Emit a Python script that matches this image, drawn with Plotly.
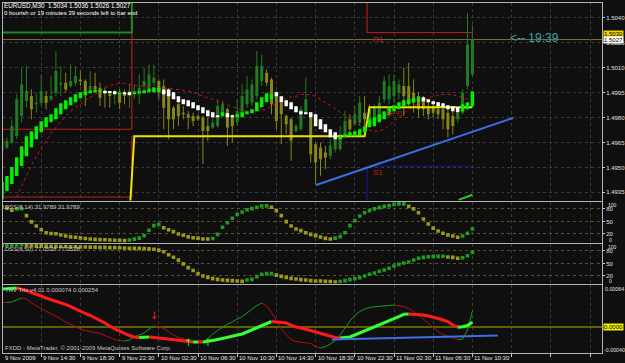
import plotly.graph_objects as go

# ---------------- DATA ----------------
n_bars = 97
bars = list(range(n_bars))

time_labels = ["9 Nov 2009", "9 Nov 14:30", "9 Nov 18:30", "9 Nov 22:30", "10 Nov 02:30",
               "10 Nov 06:30", "10 Nov 10:30", "10 Nov 14:30", "10 Nov 18:30", "10 Nov 22:30",
               "11 Nov 02:30", "11 Nov 06:30", "11 Nov 10:30"]
label_bars = [0, 8, 16, 24, 32, 40, 48, 56, 64, 72, 80, 88, 96]
grid_bars = label_bars + [104, 112, 120]

price_ticks = [1.5040, 1.5025, 1.5010, 1.4995, 1.4980, 1.4965, 1.4950, 1.4935]

c_open = [1.4960, 1.4962, 1.4965, 1.4969, 1.4981, 1.4990, 1.4993, 1.4988, 1.4989, 1.4993,
          1.4991, 1.4995, 1.5000, 1.5001, 1.4999, 1.5001, 1.5003, 1.5002, 1.4997, 1.4999,
          1.4998, 1.4996, 1.4995, 1.4994, 1.4995, 1.4995, 1.4994, 1.4995, 1.4994, 1.4999,
          1.4998, 1.5001, 1.5002, 1.4999, 1.4997, 1.4986, 1.4988, 1.4983, 1.4982, 1.4981,
          1.4981, 1.4980, 1.4975, 1.4974, 1.4975, 1.4981, 1.4985, 1.4981, 1.4977, 1.4983,
          1.4988, 1.4989, 1.4993, 1.5002, 1.5007, 1.5003, 1.4995, 1.4989, 1.4981, 1.4979,
          1.4972, 1.4973, 1.4983, 1.4982, 1.4964, 1.4962, 1.4959, 1.4957, 1.4961, 1.4961,
          1.4969, 1.4979, 1.4976, 1.4977, 1.4983, 1.4978, 1.4978, 1.4981, 1.4991, 1.4991,
          1.4993, 1.4995, 1.4999, 1.4999, 1.4995, 1.4993, 1.4991, 1.4987, 1.4987, 1.4985,
          1.4985, 1.4983, 1.4981, 1.4979, 1.4983, 1.4999, 1.5006]
c_high = [1.4970, 1.4968, 1.4979, 1.4994, 1.5010, 1.5011, 1.4997, 1.4995, 1.5006, 1.4996,
          1.5005, 1.5020, 1.5011, 1.5007, 1.5012, 1.5011, 1.5008, 1.5003, 1.5008, 1.5007,
          1.5001, 1.4998, 1.4996, 1.4997, 1.4997, 1.4997, 1.5000, 1.5000, 1.5006, 1.5010,
          1.5012, 1.5012, 1.5003, 1.5003, 1.4998, 1.4987, 1.4989, 1.4987, 1.4984, 1.4983,
          1.4982, 1.4981, 1.4980, 1.4983, 1.4991, 1.4990, 1.4986, 1.4982, 1.4991, 1.5000,
          1.5005, 1.5003, 1.5020, 1.5018, 1.5009, 1.5004, 1.4996, 1.4991, 1.4982, 1.4980,
          1.4976, 1.4987, 1.5004, 1.4983, 1.4965, 1.4965, 1.4963, 1.4967, 1.4970, 1.4975,
          1.4984, 1.4982, 1.4987, 1.4993, 1.4993, 1.4988, 1.4988, 1.4993, 1.5005, 1.5006,
          1.5006, 1.5003, 1.5010, 1.5013, 1.5003, 1.4995, 1.4993, 1.4991, 1.4989, 1.4987,
          1.4987, 1.4985, 1.4984, 1.4985, 1.4997, 1.5043, 1.5036]
c_low = [1.4955, 1.4961, 1.4964, 1.4967, 1.4977, 1.4986, 1.4979, 1.4983, 1.4987, 1.4985,
         1.4990, 1.4993, 1.4993, 1.4995, 1.4998, 1.4999, 1.4999, 1.4987, 1.4996, 1.4995,
         1.4987, 1.4986, 1.4986, 1.4988, 1.4985, 1.4988, 1.4986, 1.4991, 1.4988, 1.4995,
         1.4996, 1.4999, 1.4991, 1.4973, 1.4967, 1.4973, 1.4975, 1.4979, 1.4973, 1.4975,
         1.4978, 1.4952, 1.4966, 1.4973, 1.4974, 1.4980, 1.4963, 1.4965, 1.4975, 1.4981,
         1.4986, 1.4987, 1.4991, 1.4999, 1.4999, 1.4982, 1.4973, 1.4964, 1.4970, 1.4954,
         1.4971, 1.4972, 1.4982, 1.4953, 1.4940, 1.4945, 1.4949, 1.4955, 1.4959, 1.4960,
         1.4968, 1.4970, 1.4975, 1.4975, 1.4973, 1.4976, 1.4976, 1.4979, 1.4989, 1.4988,
         1.4989, 1.4991, 1.4981, 1.4987, 1.4983, 1.4980, 1.4981, 1.4979, 1.4980, 1.4979,
         1.4973, 1.4968, 1.4970, 1.4977, 1.4982, 1.4997, 1.5005]
c_close = [1.4967, 1.4966, 1.4975, 1.4991, 1.5000, 1.4996, 1.4985, 1.4989, 1.4996, 1.4989,
           1.4993, 1.5008, 1.5001, 1.4997, 1.5002, 1.5005, 1.5002, 1.4996, 1.4999, 1.4997,
           1.4992, 1.4994, 1.4993, 1.4996, 1.4989, 1.4993, 1.4996, 1.4996, 1.4998, 1.5002,
           1.5006, 1.5004, 1.4995, 1.4986, 1.4979, 1.4979, 1.4981, 1.4982, 1.4980, 1.4978,
           1.4979, 1.4972, 1.4972, 1.4977, 1.4987, 1.4988, 1.4974, 1.4975, 1.4984, 1.4993,
           1.4997, 1.5000, 1.5011, 1.5011, 1.5001, 1.4988, 1.4978, 1.4982, 1.4976, 1.4966,
           1.4975, 1.4985, 1.4991, 1.4958, 1.4953, 1.4955, 1.4956, 1.4963, 1.4967, 1.4970,
           1.4978, 1.4973, 1.4982, 1.4989, 1.4979, 1.4985, 1.4986, 1.4989, 1.5002, 1.4999,
           1.5002, 1.5000, 1.4993, 1.4991, 1.4989, 1.4985, 1.4985, 1.4982, 1.4983, 1.4982,
           1.4979, 1.4973, 1.4975, 1.4983, 1.4995, 1.5024, 1.5027]

ha_open = [1.49310, 1.49358, 1.49400, 1.49448, 1.49508, 1.49568, 1.49622, 1.49670, 1.49712, 1.49742,
           1.49772, 1.49790, 1.49820, 1.49850, 1.49874, 1.49892, 1.49916, 1.49934, 1.49946, 1.49952,
           1.49954, 1.49962, 1.49960, 1.49958, 1.49940, 1.49952, 1.49952, 1.49940, 1.49946, 1.49946,
           1.49952, 1.49952, 1.49955, 1.49970, 1.49970, 1.49952, 1.49928, 1.49910, 1.49904, 1.49892,
           1.49874, 1.49862, 1.49844, 1.49832, 1.49814, 1.49808, 1.49826, 1.49814, 1.49802, 1.49802,
           1.49820, 1.49826, 1.49838, 1.49862, 1.49892, 1.49910, 1.49952, 1.49928, 1.49904, 1.49892,
           1.49868, 1.49838, 1.49832, 1.49832, 1.49820, 1.49790, 1.49760, 1.49730, 1.49712, 1.49670,
           1.49682, 1.49688, 1.49688, 1.49694, 1.49712, 1.49742, 1.49748, 1.49772, 1.49790, 1.49814,
           1.49838, 1.49850, 1.49868, 1.49880, 1.49892, 1.49898, 1.49922, 1.49910, 1.49898, 1.49892,
           1.49886, 1.49874, 1.49868, 1.49862, 1.49838, 1.49850, 1.49868]
ha_close = [1.49412, 1.49448, 1.49502, 1.49562, 1.49628, 1.49688, 1.49718, 1.49748, 1.49778, 1.49802,
            1.49820, 1.49856, 1.49886, 1.49904, 1.49922, 1.49940, 1.49952, 1.49958, 1.49964, 1.49966,
            1.49966, 1.49948, 1.49948, 1.49940, 1.49952, 1.49940, 1.49934, 1.49952, 1.49958, 1.49964,
            1.49976, 1.49982, 1.49982, 1.49940, 1.49928, 1.49910, 1.49892, 1.49880, 1.49868, 1.49856,
            1.49844, 1.49826, 1.49808, 1.49802, 1.49802, 1.49832, 1.49802, 1.49802, 1.49820, 1.49832,
            1.49838, 1.49850, 1.49892, 1.49922, 1.49946, 1.49940, 1.49928, 1.49892, 1.49868, 1.49850,
            1.49832, 1.49820, 1.49820, 1.49802, 1.49748, 1.49730, 1.49712, 1.49682, 1.49670, 1.49688,
            1.49700, 1.49712, 1.49718, 1.49730, 1.49748, 1.49790, 1.49802, 1.49820, 1.49838, 1.49862,
            1.49874, 1.49892, 1.49904, 1.49910, 1.49916, 1.49922, 1.49898, 1.49892, 1.49880, 1.49868,
            1.49862, 1.49850, 1.49838, 1.49832, 1.49880, 1.49892, 1.49958]

ma_red = [None, None, None, 1.49322, 1.49388, 1.49454, 1.49514, 1.49568, 1.49616, 1.49658,
          1.49706, 1.49742, 1.49778, 1.49808, 1.49838, 1.49862, 1.49880, 1.49904, 1.49922, 1.49940,
          1.49958, 1.49982, 1.49994, 1.50000, 1.50006, 1.50006, 1.50000, 1.49994, 1.49988, 1.49985,
          1.49982, 1.49979, 1.49976, 1.49976, 1.49976, 1.49973, 1.49970, 1.49967, 1.49961, 1.49952,
          1.49940, 1.49928, 1.49919, 1.49910, 1.49898, 1.49886, 1.49874, 1.49865, 1.49856, 1.49844,
          1.49838, 1.49838, 1.49841, 1.49844, 1.49850, 1.49868, 1.49886, 1.49904, 1.49919, 1.49925,
          1.49928, 1.49940, 1.49940, 1.49937, 1.49928, 1.49910, 1.49892, 1.49874, 1.49853, 1.49832,
          1.49808, 1.49790, 1.49772, 1.49751, 1.49736, 1.49724, 1.49718, 1.49721, 1.49730, 1.49754,
          1.49778, 1.49802, 1.49826, 1.49850, 1.49868, 1.49886, 1.49904, 1.49916, 1.49928, 1.49934,
          1.49940, 1.49940, 1.49937, 1.49931, 1.49922, 1.49910, 1.49898]

# daily pivot levels (days start at these bars)
day_starts = [0, 27, 75]
pivot_yellow = [1.4920, 1.49688, 1.49862]
red_upper = [1.49730, 1.5065, 1.50312]
red_lower = [1.49322, 1.49688, None]
green_upper = [1.50312, 1.5075, None]
navy_s1 = [None, 1.4920, 1.49508]

trend_bars = [64.1, 104.3]
trend_prices = [1.49394, 1.49798]
green_tail_bars = [93.2, 96.0]
green_tail_prices = [1.49305, 1.49336]

dss1 = [85, 82, 77, 80, 80.5, 64, 49, 39, 30, 23, 21, 20.5, 17.5, 15, 13, 12, 10.5, 9, 8, 7,
        6.5, 6, 5.5, 5, 4.5, 4, 5.5, 7.5, 10, 16, 29, 40, 43, 35, 30, 26, 20, 17, 13, 11,
        10, 7.9, 7.9, 9, 19, 36, 47, 57.5, 67, 72.6, 78, 80.6, 84, 87, 87.2, 84, 76, 64, 49.5, 39,
        32, 28, 23, 19, 16, 12.7, 9.5, 7.9, 10, 13.5, 23, 40, 52, 63, 71, 76, 80, 83, 86, 88,
        91, 92, 92.2, 86, 80, 71, 56, 44, 34, 27, 21.5, 17.5, 15, 12, 15, 21.5, 31.98]
dss2 = [93, 93.5, 94, 94.5, 95, 93, 92.5, 92, 92, 91.5, 91, 91, 90.5, 90.5, 90, 90, 89.5, 89.5, 89, 89,
        88.5, 88.5, 88, 88, 87.5, 87, 86.5, 86, 86, 85.5, 85, 84, 82, 78, 71, 65, 58, 49, 40, 33,
        26, 19.9, 16.7, 13.5, 11.9, 10.3, 9.5, 8.7, 7.9, 7.1, 10.3, 11.9, 18.3, 24, 25.5, 25.6, 22, 19, 16.7, 14.3,
        12.7, 11.1, 10.3, 8.7, 7.9, 7.8, 7.1, 6.3, 5.5, 6.3, 8.7, 11.1, 13.5, 15.9, 19.9, 24, 27.1, 31.2, 34.3, 38.3,
        43.9, 47.8, 51, 53.4, 58.3, 62.3, 64.6, 66.2, 66.9, 67.0, 67.1, 65.4, 64.6, 62.3, 63.8, 68.6, 77.05]

# THV values in units of 1e-4
thv_main_e4 = [5.94, 6.02, 6.09, 6.10, 5.94, 5.70, 5.39, 5.16, 4.84, 4.53,
               4.30, 4.06, 3.75, 3.52, 3.20, 2.81, 2.42, 2.11, 1.80, 1.41,
               1.09, 0.63, 0.16, -0.31, -0.63, -1.02, -1.33, -1.56, -1.64, -1.61,
               -1.56, -1.59, -1.72, -1.80, -1.88, -1.95, -2.11, -2.19, -2.27, -2.34,
               -2.34, -2.35, -2.27, -2.11, -1.95, -1.80, -1.64, -1.41, -1.25, -1.09,
               -0.78, -0.47, -0.16, 0.16, 0.55, 0.86, 0.81, 0.70, 0.63, 0.31,
               0.00, -0.16, -0.31, -0.55, -0.78, -1.02, -1.25, -1.48, -1.64, -1.72,
               -1.64, -1.56, -1.25, -0.94, -0.63, -0.31, 0.00, 0.31, 0.63, 1.02,
               1.33, 1.64, 1.98, 2.03, 2.02, 2.00, 1.88, 1.72, 1.56, 1.33,
               1.09, 0.86, 0.31, -0.03, 0.03, 0.23, 0.74]
thv_signal_e4 = [3.91, 3.83, 3.91, 4.22, 4.53, 4.38, 3.75, 3.28, 2.89, 2.50,
                 2.11, 1.72, 1.25, 0.78, 0.39, 0.00, -0.31, -0.55, -0.70, -0.86,
                 -1.02, -1.33, -1.64, -1.95, -2.11, -2.19, -2.03, -1.56, -1.25, -0.94,
                 -0.31, 0.16, 0.08, -0.23, -0.78, -1.25, -1.64, -1.88, -2.03, -2.19,
                 -2.34, -2.50, -1.72, -1.09, -0.55, 0.00, 0.39, 0.78, 1.17, 1.64,
                 2.19, 2.81, 3.36, 3.75, 3.28, 2.27, 0.94, -0.31, -1.25, -1.95,
                 -2.27, -2.34, -2.42, -2.58, -3.05, -3.28, -3.05, -2.66, -2.11, -1.25,
                 -0.16, 0.94, 1.80, 2.42, 2.81, 3.05, 3.16, 3.23, 3.31, 3.39,
                 3.44, 3.36, 3.20, 2.89, 2.42, 1.88, 1.25, 0.55, -0.08, -0.70,
                 -1.17, -1.48, -1.72, -1.95, -1.88, -0.47, 2.54]
sell_arrow_bars = [31]
sell_arrow_e4 = [1.6]
buy_arrow_bars = [38, 42]
buy_arrow_e4 = [-2.5, -2.5]
thv_trend_bars = [67.3, 101.2]
thv_trend_e4 = [-1.95, -1.33]

# ---------------- FIGURE ----------------
BG = "#0f0f0f"
FONT = "Liberation Sans"
FS = 6
fig = go.Figure()

def add_line(x, y, color, width=1, ax="", dash="solid", shape="linear"):
    fig.add_trace(go.Scatter(x=x, y=y, mode="lines", xaxis="x" + ax, yaxis="y" + ax,
                             line=dict(color=color, width=width, dash=dash, shape=shape),
                             connectgaps=False, hoverinfo="skip"))

def per_bar(levels):
    out = []
    for i in bars:
        d = max(k for k, s in enumerate(day_starts) if s <= i)
        out.append(levels[d])
    return out

# pivot lines
add_line(bars, per_bar(red_lower), "#c81e1e", 1, shape="hvh")
add_line(bars, per_bar(red_upper), "#c81e1e", 1, shape="hvh")
add_line(bars, per_bar(green_upper), "#1f8a1f", 2, shape="hvh")
add_line(bars, per_bar(navy_s1), "#1a1a96", 1, shape="hvh")

# candles
def seg_lists(idx, lo, hi, minh=0.0):
    xs, ys = [], []
    for i in idx:
        a, b = lo[i], hi[i]
        if abs(b - a) < minh:
            m = (a + b) / 2
            a, b = m - minh / 2, m + minh / 2
        xs += [i, i, None]
        ys += [a, b, None]
    return xs, ys

bull = [i for i in bars if c_close[i] >= c_open[i]]
bear = [i for i in bars if c_close[i] < c_open[i]]
for idx, col in ((bull, "#227a22"), (bear, "#86861c")):
    xs, ys = seg_lists(idx, c_low, c_high)
    add_line(xs, ys, col, 1)
    xs, ys = seg_lists(idx, c_open, c_close, 0.00005)
    add_line(xs, ys, col, 3)

# red MA
add_line(bars, ma_red, "#cc1414", 1, dash="dot")

# yellow pivot
add_line(bars, per_bar(pivot_yellow), "#e6e600", 2)

# smoothed HA blocks
ha_up = [i for i in bars if ha_close[i] >= ha_open[i]]
ha_dn = [i for i in bars if ha_close[i] < ha_open[i]]
for idx, col in ((ha_up, "#00f000"), (ha_dn, "#ffffff")):
    xs, ys = seg_lists(idx, ha_open, ha_close, 0.00005)
    add_line(xs, ys, col, 3.5)

add_line(trend_bars, trend_prices, "#3d6ee6", 2)
add_line(green_tail_bars, green_tail_prices, "#22cc22", 2)

# DSS dots
def dss_trace(vals, ax):
    cols = ["#229922" if (i > 0 and vals[i] > vals[i - 1]) else "#9a9a1a" for i in bars]
    fig.add_trace(go.Scatter(x=bars, y=vals, mode="markers", xaxis="x" + ax, yaxis="y" + ax,
                             marker=dict(symbol="square", size=3.6, color=cols, line=dict(width=0)),
                             hoverinfo="skip"))
dss_trace(dss1, "2")
dss_trace(dss2, "3")

# THV
def colored_runs(vals, up_col, dn_col, width):
    dirs = [vals[i] >= vals[i - 1] for i in range(1, n_bars)]
    start = 0
    for k in range(1, len(dirs) + 1):
        if k == len(dirs) or dirs[k] != dirs[start]:
            xs = bars[start:k + 1]
            ys = [v * 1e-4 for v in vals[start:k + 1]]
            add_line(xs, ys, up_col if dirs[start] else dn_col, width, ax="4")
            start = k

add_line([0, 122.5], [0, 0], "#7a7a00", 1.5, ax="4")
colored_runs(thv_signal_e4, "#1c9c1c", "#b01212", 1)
colored_runs(thv_main_e4, "#33ff33", "#ff1a1a", 3)
add_line(thv_trend_bars, [v * 1e-4 for v in thv_trend_e4], "#3d6ee6", 2, ax="4")
fig.add_trace(go.Scatter(x=sell_arrow_bars, y=[v * 1e-4 for v in sell_arrow_e4], mode="text",
                         text=["↓"] * len(sell_arrow_bars), xaxis="x4", yaxis="y4",
                         textfont=dict(color="#ff2020", size=10, family="DejaVu Sans"), hoverinfo="skip"))
fig.add_trace(go.Scatter(x=buy_arrow_bars, y=[v * 1e-4 for v in buy_arrow_e4], mode="text",
                         text=["↑"] * len(buy_arrow_bars), xaxis="x4", yaxis="y4",
                         textfont=dict(color="#22ff22", size=10, family="DejaVu Sans"), hoverinfo="skip"))

# ---------------- LAYOUT ----------------
LINE = "#b4b4b4"
GRID = "#3a3a3a"
xr = [0.2, 122.45]
xcommon = dict(range=xr, tickvals=grid_bars, showgrid=True, gridcolor=GRID, griddash="dot",
               gridwidth=1, zeroline=False, showline=True, linecolor=LINE, linewidth=1, mirror=True,
               fixedrange=True, automargin=False, showticklabels=False)
ycommon = dict(side="right", showline=True, linecolor=LINE, linewidth=1, mirror=True, zeroline=False,
               ticks="outside", ticklen=2, tickcolor="#c8c8c8", tickfont=dict(size=FS, color="#e0e0e0"),
               fixedrange=True, automargin=False)

def py(y):  # pixel row -> paper fraction
    return (353 - y) / 350.0

def px(x):
    return (x - 3) / 599.0

fig.update_layout(
    width=625, height=363, margin=dict(l=3, r=23, t=3, b=10, autoexpand=False),
    paper_bgcolor=BG, plot_bgcolor=BG, showlegend=False, hovermode=False,
    font=dict(family=FONT, color="#e0e0e0", size=FS),
    xaxis=dict(anchor="y", **xcommon),
    xaxis2=dict(anchor="y2", matches="x", **xcommon),
    xaxis3=dict(anchor="y3", matches="x", **xcommon),
    xaxis4=dict(anchor="y4", matches="x", ticks="outside", ticklen=3, tickcolor="#c8c8c8", **xcommon),
    yaxis=dict(anchor="x", domain=[py(200.5), 1.0], range=[1.49301, 1.50490],
               tickvals=price_ticks, ticktext=["%.4f" % p for p in price_ticks],
               showgrid=True, gridcolor=GRID, griddash="dot", **ycommon),
    yaxis2=dict(anchor="x2", domain=[py(242.5), py(201.5)], range=[-0.5, 97.8],
                tickvals=[20, 50, 80], ticktext=["20", "50", "80"],
                showgrid=True, gridcolor="#55552a", griddash="dot", **ycommon),
    yaxis3=dict(anchor="x3", domain=[py(283.5), py(243.5)], range=[1.9, 97.8],
                tickvals=[20, 50, 80], ticktext=["20", "50", "80"],
                showgrid=True, gridcolor="#55552a", griddash="dot", **ycommon),
    yaxis4=dict(anchor="x4", domain=[0.0, py(284.5)], range=[-0.000406, 0.000664],
                tickvals=[], showgrid=False, **ycommon),
)

fig.add_shape(type="line", xref="x domain", yref="y", x0=0, x1=1, y0=c_close[-1], y1=c_close[-1],
              line=dict(color="#7d6d35", width=1), layer="below")

ann = []
def text(x, y, s, color="#e8e8e8", size=FS, anchor="left", fam=FONT, **kw):
    ann.append(dict(xref="paper", yref="paper", x=px(x), y=py(y), text=s, showarrow=False,
                    xanchor=anchor, yanchor="middle", font=dict(color=color, size=size, family=fam), **kw))

# time axis labels (left-aligned after each tick, MetaTrader style)
for b, lbl in zip(label_bars, time_labels):
    ann.append(dict(xref="x4", yref="paper", x=max(b, xr[0]), y=py(358), text=lbl, showarrow=False,
                    xanchor="left", yanchor="middle", xshift=0,
                    font=dict(color="#e6e6e6", size=FS, family=FONT)))

text(2, 6, "EURUSD,M30  1.5034 1.5036 1.5026 1.5027", "#ffffff", 6.3)
text(2, 13, "0 hourish or 19 minutes 39 seconds left to bar end", "#ffffff")
text(3, 207, "DSS(8,14) 31.9789 31.9789", "#c8c8c8")
text(3, 249, "DSS(8,50) 77.0528 77.0528", "#c8c8c8")
text(3, 290, "THV Trix v4.01 0.000074 0.000254", "#c8c8c8")
text(3, 348, "FXDD - MetaTrader, © 2001-2009 MetaQuotes Software Corp.", "#c8c8c8")
text(508, 38, "<-- 19:39", "#3aa3a3", 12)
text(606, 204.5, "100", "#e0e0e0", 5)
text(607, 239.5, "0", "#e0e0e0", 5)
text(606, 246.5, "100", "#e0e0e0", 5)
text(607, 280.5, "0", "#e0e0e0", 5)
text(603, 289, "0.00064", "#e0e0e0", 5.3)
text(602, 350, "-0.00040", "#e0e0e0", 5.3)
text(603, 34.5, "1.5030", "#000000", FS, bgcolor="#f0d000", borderpad=0)
text(603, 40.5, "1.5027", "#000000", FS, bgcolor="#ffffff", borderpad=0)
text(603, 327, "0.0000", "#000000", FS, bgcolor="#f0f000", borderpad=0)

for lbl, yv in (("R1", red_upper[2]), ("S1", navy_s1[2])):
    ann.append(dict(xref="x", yref="y", x=75.3, y=yv, text=lbl, showarrow=False, xanchor="left",
                    yanchor="top", font=dict(color="#c81e1e", size=8, family=FONT)))
ann.append(dict(xref="x", yref="y", x=77.8, y=pivot_yellow[2], text="WPP", showarrow=False,
                xanchor="left", yanchor="top", font=dict(color="#b01818", size=7.5, family=FONT)))
fig.update_layout(annotations=ann)

fig.write_html("out.html")
